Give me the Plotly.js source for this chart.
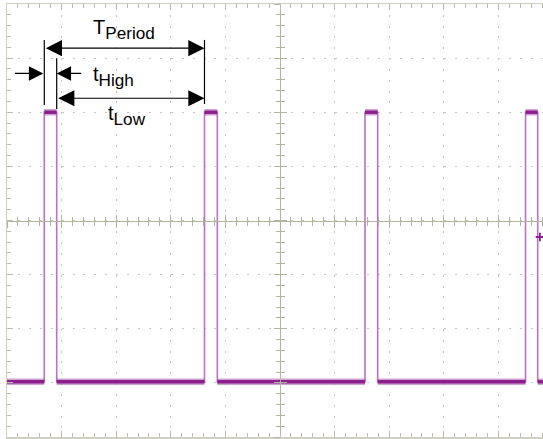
<!DOCTYPE html>
<html>
<head>
<meta charset="utf-8">
<script src="https://cdn.plot.ly/plotly-3.0.1.min.js"></script>
<style>
  html, body { margin: 0; padding: 0; overflow: hidden; background: #ffffff; }
  #chart { width: 560px; height: 439px; }
</style>
</head>
<body>
<div id="chart"></div>
<script>
// Time axis in scope divisions (centre = 0), voltage in divisions (centre = 0)
const riseTimes = [-4.317, -1.383, 1.557, 4.497];
const fallTimes = [-4.090, -1.148, 1.789, 4.720];
const highLevel = 2.0;
const lowLevel = -2.98;
const triggerTime = [4.76];
const triggerLevel = [-0.305];
const labelPeriod = '<span style="font-size:20px">T</span><sub>Period</sub>';
const labelHigh = '<span style="font-size:20px">t</span><sub>High</sub>';
const labelLow = '<span style="font-size:20px">t</span><sub>Low</sub>';

const X_MIN = -5, X_MAX = 5, Y_MIN = -4, Y_MAX = 4;

// full waveform
const wx = [X_MIN], wy = [lowLevel];
riseTimes.forEach((r, i) => {
  const f = fallTimes[i];
  wx.push(r, r, f, f);
  wy.push(lowLevel, highLevel, highLevel, lowLevel);
});
wx.push(X_MAX); wy.push(lowLevel);

// level segments (noise band look)
const lx = [], ly = [];
let prev = X_MIN;
riseTimes.forEach((r, i) => {
  lx.push(prev, r, null); ly.push(lowLevel, lowLevel, null);
  lx.push(r, fallTimes[i], null); ly.push(highLevel, highLevel, null);
  prev = fallTimes[i];
});
lx.push(prev, X_MAX); ly.push(lowLevel, lowLevel);

const edgeColor = '#bb72c2';
const levelColor = '#8c1e8e';

const traces = [
  { x: wx, y: wy, mode: 'lines', line: { color: edgeColor, width: 1.6 }, hoverinfo: 'skip' },
  { x: lx, y: ly, mode: 'lines', line: { color: '#a65aab', width: 6.5 }, opacity: 0.55, connectgaps: false, hoverinfo: 'skip' },
  { x: lx, y: ly, mode: 'lines', line: { color: levelColor, width: 3.4 }, connectgaps: false, hoverinfo: 'skip' },
  { x: triggerTime, y: triggerLevel, mode: 'markers',
    marker: { symbol: 'cross-thin', size: 6, line: { color: levelColor, width: 1.8 } }, hoverinfo: 'skip' },
  { x: [], y: [], xaxis: 'x2', yaxis: 'y2' },
  { x: [], y: [], xaxis: 'x3', yaxis: 'y3' }
];

const frameColor = '#d0d0c0';
const tickColor = '#bcbcac';
const centerColor = '#b4b4a2';

function frameAxis(range, dash) {
  return {
    range: range, dtick: 1, tick0: 0, showgrid: true, gridcolor: '#c6c6c6', gridwidth: 1,
    griddash: dash, zeroline: false, showline: true, linecolor: frameColor, linewidth: 1.5,
    mirror: 'ticks', ticks: 'inside', ticklen: 6, tickcolor: tickColor, tickwidth: 1,
    showticklabels: false, fixedrange: true,
    minor: { ticks: 'inside', dtick: 0.2, ticklen: 4, tickcolor: tickColor, tickwidth: 1, showgrid: false }
  };
}
function centerAxis(range, overlay, ticksDir) {
  return {
    range: range, overlaying: overlay, matches: overlay, anchor: 'free', position: 0.5,
    dtick: 1, tick0: 0, showgrid: false, zeroline: false, showline: true, linecolor: centerColor,
    linewidth: 1, ticks: ticksDir, ticklen: 6, tickcolor: centerColor, tickwidth: 1,
    showticklabels: false, fixedrange: true,
    minor: { ticks: ticksDir, dtick: 0.2, ticklen: 4, tickcolor: centerColor, tickwidth: 1, showgrid: false }
  };
}

// annotation heights (in divisions)
const yPeriodArrow = 3.183, yHighArrow = 2.717, yLowArrow = 2.259;

const arrowCommon = {
  xref: 'x', yref: 'y', text: '', showarrow: true, arrowcolor: '#000000',
  arrowwidth: 1.2, arrowhead: 2, arrowsize: 2.7, standoff: 0, startstandoff: 0
};

const textFont = { family: 'Liberation Sans, Arial, sans-serif', size: 24.5, color: '#000000' };

const annotations = [
  Object.assign({}, arrowCommon, {
    x: riseTimes[1], y: yPeriodArrow, axref: 'x', ayref: 'y', ax: riseTimes[0], ay: yPeriodArrow,
    arrowside: 'end+start', startarrowhead: 2, startarrowsize: 2.7
  }),
  Object.assign({}, arrowCommon, {
    x: riseTimes[1], y: yLowArrow, axref: 'x', ayref: 'y', ax: fallTimes[0], ay: yLowArrow,
    arrowside: 'end+start', startarrowhead: 2, startarrowsize: 2.7
  }),
  Object.assign({}, arrowCommon, {
    x: riseTimes[0], y: yHighArrow, ax: -31, ay: 0, arrowsize: 2.4, standoff: 1
  }),
  Object.assign({}, arrowCommon, {
    x: fallTimes[0], y: yHighArrow, ax: 26, ay: 0, arrowsize: 2.4, standoff: 0
  }),
  { xref: 'x', yref: 'y', x: (riseTimes[0] + riseTimes[1]) / 2, y: 3.52, text: labelPeriod,
    showarrow: false, xanchor: 'center', yanchor: 'middle', font: textFont },
  { xref: 'x', yref: 'y', x: fallTimes[0], xshift: 34, y: 2.66, text: labelHigh,
    showarrow: false, xanchor: 'left', yanchor: 'middle', font: textFont },
  { xref: 'x', yref: 'y', x: (fallTimes[0] + riseTimes[1]) / 2, xshift: -4, y: 1.94, text: labelLow,
    showarrow: false, xanchor: 'center', yanchor: 'middle', font: textFont }
];

const extLine = { type: 'line', xref: 'x', yref: 'y', line: { color: '#000000', width: 1.2 } };
const shapes = [
  Object.assign({}, extLine, { x0: riseTimes[0], x1: riseTimes[0], y0: 2.135, y1: 3.336 }),
  Object.assign({}, extLine, { x0: fallTimes[0], x1: fallTimes[0], y0: 2.06, y1: 3.0 }),
  Object.assign({}, extLine, { x0: riseTimes[1], x1: riseTimes[1], y0: 2.153, y1: 3.336 })
];

const layout = {
  width: 560, height: 439,
  margin: { l: 7, r: 7, t: 4, b: 2, pad: 0 },
  paper_bgcolor: '#ffffff', plot_bgcolor: '#ffffff',
  showlegend: false,
  xaxis: frameAxis([X_MIN, X_MAX], '2px,8.83px'),
  yaxis: frameAxis([Y_MIN, Y_MAX], '2px,8.92px'),
  xaxis2: Object.assign(centerAxis([X_MIN, X_MAX], 'x', 'outside'), { side: 'bottom' }),
  yaxis2: Object.assign(centerAxis([Y_MIN, Y_MAX], 'y', 'outside'), { side: 'left' }),
  xaxis3: Object.assign(centerAxis([X_MIN, X_MAX], 'x', 'inside'), { side: 'bottom' }),
  yaxis3: Object.assign(centerAxis([Y_MIN, Y_MAX], 'y', 'inside'), { side: 'left' }),
  annotations: annotations,
  shapes: shapes
};

Plotly.newPlot('chart', traces, layout, { staticPlot: true, displayModeBar: false });
</script>
</body>
</html>
